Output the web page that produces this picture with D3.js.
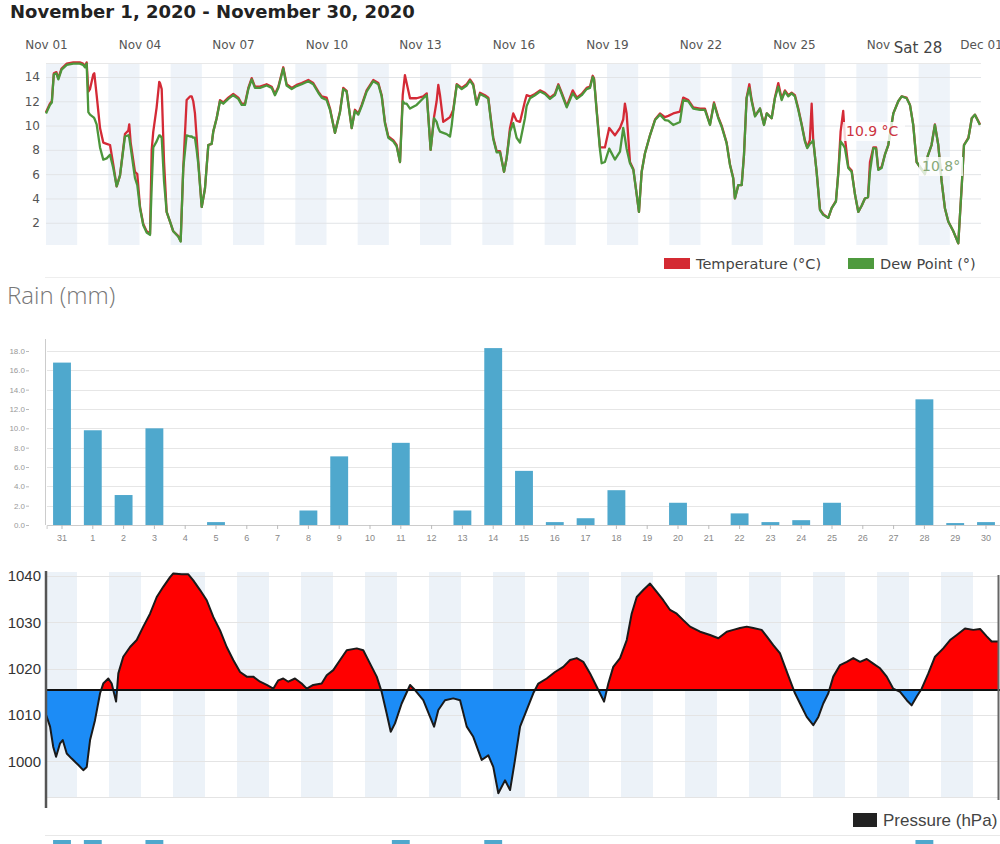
<!DOCTYPE html>
<html><head><meta charset="utf-8">
<script src="https://cdn.jsdelivr.net/npm/d3@7"></script>
<style>
body{margin:0;background:#fff;overflow:hidden}
svg{display:block}
</style></head><body>
<svg id="c" width="1000" height="844"></svg>
<script>
// ---------------- DATA ----------------
const titleText = "November 1, 2020 - November 30, 2020";

// hours since Nov 1 00:00
const tempHours = [
0,3,4.5,6,8,9.5,12,16,21,26,
28.5,30,31.3,32.6,33.9,36.4,37.2,39,41.6,44.1,
46.7,49.3,51.8,54.4,57,60.8,63.4,64.1,65.2,68.5,
70.3,72.4,74.9,77.5,80.1,81.4,82.6,85.2,87.2,87.8,
89.1,90.9,92.9,95.5,98,101.9,103.7,105.7,108.3,110.9,
112.2,113.4,114.7,116,117.3,119.9,122.4,125,127.6,128.8,
131.4,134,136.5,140.4,144.2,148.1,150.7,153.2,155.8,158.4,
160.9,164.8,169.9,173.8,176.3,178.9,182.7,185.3,189.2,193,
196.9,202,205.8,209.7,212.3,216.1,218.7,222.5,226.4,228.9,
231.5,235.4,237.9,240.5,243.1,246.9,252,255.9,258.5,261,
263.6,267.4,270,272.6,274.7,276.4,277.7,280.3,285.4,290.5,
293.2,296.2,298.8,300.8,302.1,303.4,305.9,308.5,311.1,312.4,
313.6,316.3,320.1,324,326.5,329,331.6,334.2,338,340.6,
342.4,344.4,347,349.6,352.7,354.7,357.3,359.8,362.4,365,
368.8,370.1,372.7,376.5,380.4,384.2,388.1,391.9,394.5,397.1,
401,405.6,408.7,412.5,416.3,418.9,421,422,424.1,426.6,
427.9,430.4,433.7,438.1,442,444.5,445.8,447.1,449.7,452.3,
454.9,456.6,458.7,461.2,465.1,469,472.8,476.6,479.2,483,
488.2,490.7,494.6,498.4,503.6,507.4,511.3,514.4,517.7,520.3,
524.1,526.7,529.2,530.5,533.1,535.7,537.5,539.5,541.6,543.4,
546,549.8,552.9,555,558.8,561.3,563.9,566.5,569,571.6,
574.2,576.7,579.3,581.9,584.4,586.2,588.2,589.6,590.8,593.4,
596,598.5,602.4,605,608.3,610.1,611.9,613.9,615.2,617.8,
620.4,623,625.5,628.1,630.6,633,634.5,637.1,639.2,640.9,
643.5,646,648.6,652.5,656.3,658.9,662.7,665.3,667.8,670.4,
676.8,679,681.9,684.5,687.1,689.7,692.2,694.8,698.7,702.5,
705.2,706.9,710.3,712.9,715.3,719.2];

const temperature = [
11.1,11.8,12.0,14.3,14.4,13.9,14.7,15.1,15.2,15.2,
15.1,14.9,15.2,12.8,13.0,14.2,14.3,12.5,9.8,8.6,
8.5,8.4,6.8,5.0,5.9,9.3,9.6,10.1,8.6,6.2,
6.0,3.3,1.9,1.3,1.1,8.0,9.5,11.5,13.6,13.5,
13.0,7.0,2.9,2.1,1.3,0.9,0.5,6.5,12.1,12.4,
12.4,12.0,11.0,9.0,7.0,3.3,4.8,8.4,8.5,9.5,
10.6,12.1,11.9,12.3,12.6,12.3,11.8,11.8,13.1,13.9,
13.2,13.2,13.4,13.2,12.6,13.2,14.8,13.4,13.1,13.35,
13.5,13.75,13.5,12.8,12.4,12.3,11.4,9.4,11.15,13.1,
12.85,9.8,11.3,11.0,11.7,12.9,13.75,13.5,12.5,10.3,
9.1,8.8,8.4,7.0,12.5,14.15,13.5,12.25,12.25,12.4,
12.65,8.0,10.7,12.0,13.35,12.5,10.3,10.5,10.7,11.0,
11.3,13.4,13.1,13.4,13.8,13.4,11.8,12.7,12.5,12.3,
10.7,9.0,7.9,7.9,6.2,7.3,9.8,11.0,10.4,10.3,
12.0,12.5,12.4,12.6,12.9,12.7,12.3,12.6,13.4,12.7,
11.6,12.9,12.3,12.6,13.1,13.2,14.1,13.9,11.2,8.2,
8.2,8.2,9.8,9.2,9.8,10.5,11.8,11.0,7.0,6.4,
4.3,2.9,6.2,7.7,9.2,10.5,11.0,10.7,10.8,11.0,
11.15,12.3,12.1,11.5,11.4,11.4,10.1,11.9,10.7,10.0,
8.6,6.8,5.7,4.0,5.1,5.1,7.6,12.3,13.4,12.1,
10.8,11.4,10.1,11.0,10.6,12.3,13.5,12.2,12.9,12.5,
12.7,12.5,11.4,10.1,8.8,8.2,8.8,11.8,8.8,6.2,
3.1,2.7,2.4,3.2,3.8,6.1,9.5,11.2,9.0,6.6,
6.3,4.3,2.9,3.4,4.0,4.1,7.0,8.2,8.2,6.4,
6.6,7.6,8.4,11.0,12.0,12.4,12.3,11.7,10.1,7.0,
6.0,7.5,8.4,10.1,8.4,5.4,3.2,2.1,1.3,0.3,
5.1,8.4,9.0,10.6,10.9,10.1];

const dewPoint = [
11.0,11.7,11.9,14.2,14.3,13.8,14.6,15.0,15.1,15.1,
15.0,14.8,15.1,11.1,10.9,10.7,10.6,10.1,8.2,7.2,
7.3,7.6,6.5,5.0,5.9,9.1,9.2,9.0,8.2,5.7,
5.1,3.2,1.8,1.2,1.0,5.0,8.2,8.7,9.2,9.2,
9.0,5.4,2.9,2.1,1.3,0.85,0.45,6.5,9.2,9.1,
9.1,9.0,9.0,8.0,6.8,3.3,4.8,8.4,8.5,9.5,
10.6,12.0,11.8,12.2,12.5,12.2,11.7,11.7,13.0,13.8,
13.1,13.1,13.3,13.1,12.5,13.1,14.7,13.3,13.0,13.25,
13.4,13.65,13.4,12.7,12.3,12.1,11.3,9.4,11.1,13.0,
12.8,9.8,11.2,10.9,11.6,12.8,13.65,13.4,12.4,10.2,
9.0,8.7,8.3,7.0,12.0,11.8,11.8,11.4,11.7,12.25,
12.5,8.0,10.6,10.3,9.8,9.5,9.4,9.3,9.1,10.0,
11.15,13.35,13.0,13.3,13.7,13.3,11.7,12.6,12.4,12.2,
10.6,8.9,7.8,7.8,6.2,7.3,9.5,10.2,9.0,8.6,
10.6,11.6,12.25,12.5,12.8,12.6,12.2,12.5,13.3,12.6,
11.5,12.65,12.2,12.5,13.0,13.1,14.0,13.8,11.1,8.0,
6.9,7.0,8.1,7.2,7.85,9.8,9.0,8.1,6.9,6.35,
4.3,2.9,6.2,7.7,9.2,10.45,10.9,10.45,10.4,10.05,
10.3,12.1,12.0,11.4,11.3,11.3,10.05,11.8,10.6,9.9,
8.55,6.75,5.65,4.0,5.1,5.1,7.6,12.25,13.1,12.0,
10.75,11.4,10.05,11.0,10.6,12.25,13.2,12.1,12.8,12.4,
12.65,12.4,11.3,10.05,8.7,8.15,8.5,8.6,8.8,6.2,
3.05,2.65,2.4,3.2,3.75,6.05,8.7,8.4,8.15,6.5,
6.2,4.3,2.9,3.4,4.0,4.1,6.2,8.15,8.1,6.35,
6.5,7.6,8.4,11.0,12.0,12.4,12.25,11.7,10.05,7.0,
6.0,7.5,8.4,10.05,8.4,5.4,3.2,2.1,1.3,0.3,
5.1,8.4,8.95,10.6,10.9,10.05];

const tempTickHours = [0,72,144,216,288,360,432,504,576,648,720];
const tempTickLabels = ["Nov 01","Nov 04","Nov 07","Nov 10","Nov 13","Nov 16","Nov 19","Nov 22","Nov 25","Nov 28","Dec 01"];
const tempYTicks = [2,4,6,8,10,12,14];
const tempSeriesNames = ["Temperature (°C)","Dew Point (°)"];
const hoverLabel = "Sat 28";
const hoverTemp = "10.9 °C";
const hoverDew = "10.8°";

const rainDays = ["31","1","2","3","4","5","6","7","8","9","10","11","12","13","14","15","16","17","18","19","20","21","22","23","24","25","26","27","28","29","30"];
const rainMM = [16.8,9.8,3.1,10.0,0,0.3,0,0,1.5,7.1,0,8.5,0,1.5,18.3,5.6,0.3,0.7,3.6,0,2.3,0,1.2,0.3,0.5,2.3,0,0,13.0,0.2,0.3];
const rainTicks = [0,2,4,6,8,10,12,14,16,18];
const rainTitle = "Rain (mm)";

const pressureHours = [
0,3.8,6.2,8.3,11.3,13.3,16.3,20,25,28.7,
31.3,33.8,37.5,41.3,43.7,47.5,50,53.3,55,58.7,
63.8,68.8,73.7,78.8,83.8,88.7,93.8,96.2,102.5,107.5,
111.2,116.3,121.3,126.2,131.3,136.3,141.2,146.3,151.3,156.2,
161.3,166.3,171.2,175,178.7,182.5,187.5,192.5,196.3,201.2,
207.5,211.3,216.2,221.3,226.3,233.8,238.7,243.8,248.8,252.5,
256.3,259.3,262.5,267.5,273.8,277.5,283.7,288.8,291.8,295,
300,306.2,311.3,316.3,321.2,327.5,332.5,336.2,340,345,
348.8,352.5,356.3,361.3,366.2,370,376.3,382.5,388.7,393.8,
398.8,403.7,408.8,413.8,419.3,422.5,426.2,431.3,436.3,440,
443.8,448.7,453.8,458.8,463.7,468.8,473.8,478.7,483.8,491.3,
498.8,505,511.3,516.2,521.3,526.3,531.2,537.5,541.3,546.2,
551.3,555,558.8,562.5,566.3,571.3,576.2,580,583.7,587.5,
591.2,596.3,601.3,606.2,611.3,616.3,621.2,626.3,631.3,636.2,
641.3,646.3,650,653.8,657.5,662.5,667.5,673.7,678.8,683.8,
690,696.2,701.3,706.3,710,716.3];
const pressure = [
1010.7,1007.5,1003.1,1001.0,1003.9,1004.6,1001.7,1000.6,999.2,998.1,
998.8,1004.6,1008.9,1014.7,1016.8,1017.9,1016.8,1012.9,1019.0,1022.6,
1024.7,1026.2,1029.1,1031.9,1035.5,1037.7,1039.8,1040.6,1040.4,1040.4,
1039.1,1037.0,1034.8,1031.2,1028.3,1024.7,1021.9,1019.3,1018.3,1018.3,
1017.2,1016.5,1015.7,1017.5,1017.9,1017.2,1017.9,1016.8,1015.7,1016.5,
1016.8,1018.6,1019.7,1021.9,1024.0,1024.4,1024.0,1021.1,1018.3,1015.0,
1010.3,1006.4,1008.2,1012.5,1016.5,1015.4,1013.2,1009.6,1007.5,1011.1,
1013.2,1013.6,1013.2,1007.5,1005.3,1000.3,1001.3,998.8,993.1,995.9,
993.8,1000.3,1007.5,1011.1,1014.7,1016.8,1017.9,1019.3,1020.4,1021.9,
1022.3,1021.5,1019.0,1016.1,1012.9,1016.8,1020.4,1022.3,1026.2,1031.9,
1035.5,1037.0,1038.4,1036.6,1034.8,1032.7,1031.9,1030.5,1029.1,1028.0,
1027.3,1026.6,1028.0,1028.4,1028.8,1029.1,1028.8,1028.4,1027.0,1025.1,
1023.3,1020.4,1017.5,1014.7,1012.5,1009.6,1007.8,1009.6,1012.5,1014.7,
1018.3,1020.8,1021.5,1022.3,1021.5,1022.1,1021.1,1020.1,1018.3,1015.7,
1015.0,1013.2,1012.1,1014.0,1015.7,1019.0,1022.6,1024.4,1026.2,1027.3,
1028.7,1028.4,1028.6,1027.0,1025.9,1025.9];
const pressureBaseline = 1015.4;
const pressureTicks = [1000,1010,1020,1030,1040];
const pressureName = "Pressure (hPa)";

// ---------------- DRAW ----------------
const SANS = '"DejaVu Sans", sans-serif';
const ARIAL = '"Liberation Sans", Arial, sans-serif';
const svg = d3.select("#c");

svg.append("text").attr("x", 10).attr("y", 18)
  .attr("font-family", SANS).attr("font-weight", "bold").attr("font-size", 18)
  .attr("fill", "#222").text(titleText);

// ===== Temperature chart =====
const tTop = 63, tBot = 245, tL = 46, tR = 981;
const tX = d3.scaleLinear().domain([0, 720]).range([tL, tR]);
const tY = d3.scaleLinear().domain([0.17, 15.15]).range([tBot, tTop]);
const gT = svg.append("g");

gT.selectAll("rect.band").data(d3.range(0, 30, 2)).join("rect")
  .attr("x", d => tX(d * 24)).attr("y", tTop)
  .attr("width", tX(24) - tX(0)).attr("height", tBot - tTop)
  .attr("fill", "#eef3f9");

gT.selectAll("line.grid").data(tempYTicks).join("line")
  .attr("x1", tL).attr("x2", tR).attr("y1", d => tY(d) + 0.5).attr("y2", d => tY(d) + 0.5)
  .attr("stroke", "#e2e4e7");
gT.append("line").attr("x1", tL).attr("x2", tR).attr("y1", tTop + 0.5).attr("y2", tTop + 0.5).attr("stroke", "#e8e8e8");

const tyAxis = gT.append("g").attr("transform", `translate(${tL - 4},0)`)
  .call(d3.axisLeft(tY).tickValues(tempYTicks).tickSize(0).tickPadding(2));
tyAxis.select(".domain").remove();
tyAxis.selectAll("text").attr("font-family", SANS).attr("font-size", 12).attr("fill", "#555");

const txAxis = gT.append("g").attr("transform", `translate(0,52)`)
  .call(d3.axisTop(tX).tickValues(tempTickHours).tickFormat((d, i) => tempTickLabels[i]).tickSize(0).tickPadding(3));
txAxis.select(".domain").remove();
txAxis.selectAll("text").attr("font-family", SANS).attr("font-size", 12).attr("fill", "#555");

const tLine = vals => d3.line().x((d, i) => tX(tempHours[i])).y(d => tY(d)).curve(d3.curveLinear)(vals);
gT.append("path").attr("d", tLine(temperature)).attr("fill", "none")
  .attr("stroke", "#d42a36").attr("stroke-width", 2.3).attr("stroke-linejoin", "round");
gT.append("path").attr("d", tLine(dewPoint)).attr("fill", "none")
  .attr("stroke", "#4c963b").attr("stroke-width", 2.3).attr("stroke-linejoin", "round");

// hover labels
gT.append("rect").attr("x", 843).attr("y", 122).attr("width", 62).attr("height", 19).attr("fill", "#fff").attr("opacity", 0.8);
gT.append("text").attr("x", 846).attr("y", 136).attr("font-family", SANS).attr("font-size", 14)
  .attr("fill", "#cc3341").text(hoverTemp);
gT.append("rect").attr("x", 919).attr("y", 157).attr("width", 44).attr("height", 19).attr("fill", "#fff").attr("opacity", 0.8);
gT.append("text").attr("x", 922).attr("y", 171).attr("font-family", SANS).attr("font-size", 14)
  .attr("fill", "#86a877").text(hoverDew);
gT.append("rect").attr("x", 891).attr("y", 34).attr("width", 56).attr("height", 24).attr("fill", "#fff");
gT.append("text").attr("x", 918).attr("y", 53).attr("text-anchor", "middle").attr("font-family", SANS)
  .attr("font-size", 15).attr("fill", "#444").text(hoverLabel);

// legend
const legT = [{x: 664, c: "#d42a33"}, {x: 848, c: "#4e9a3e"}];
legT.forEach((l, i) => {
  svg.append("rect").attr("x", l.x).attr("y", 258).attr("width", 26).attr("height", 11).attr("fill", l.c);
  svg.append("text").attr("x", l.x + 32).attr("y", 269).attr("font-family", SANS).attr("font-size", 14.5)
    .attr("fill", "#444").text(tempSeriesNames[i]);
});

svg.append("line").attr("x1", 45).attr("x2", 1000).attr("y1", 277.5).attr("y2", 277.5).attr("stroke", "#eee");

// ===== Rain chart =====
svg.append("text").attr("x", 7).attr("y", 304).attr("font-family", '"Open Sans", sans-serif')
  .attr("font-weight", 300).attr("font-size", 24).attr("fill", "#777").text(rainTitle);

const rX = d3.scaleBand().domain(rainDays).range([46.6, 1001.4]).paddingInner(0.42).paddingOuter(0.21);
const rY = d3.scaleLinear().domain([0, 19.2]).range([525, 339.4]);
const gR = svg.append("g");
gR.selectAll("line.grid").data(rainTicks.slice(1)).join("line")
  .attr("x1", 47).attr("x2", 1000).attr("y1", d => Math.round(rY(d)) + 0.5).attr("y2", d => Math.round(rY(d)) + 0.5)
  .attr("stroke", "#e6e6e6");
gR.selectAll("rect.bar").data(rainMM).join("rect")
  .attr("x", (d, i) => rX(rainDays[i])).attr("width", rX.bandwidth())
  .attr("y", d => rY(d)).attr("height", d => rY(0) - rY(d))
  .attr("fill", "#4fa8cd");
const ryAxis = gR.append("g").attr("transform", "translate(29,0)")
  .call(d3.axisLeft(rY).tickValues(rainTicks).tickFormat(d3.format(".1f")).tickSize(3).tickPadding(1));
ryAxis.select(".domain").remove();
ryAxis.selectAll("line").attr("stroke", "#bbb");
ryAxis.selectAll("text").attr("font-family", ARIAL).attr("font-size", 8).attr("fill", "#999");
gR.append("line").attr("x1", 45.5).attr("x2", 45.5).attr("y1", 339).attr("y2", 525).attr("stroke", "#ccc");
const rxAxis = gR.append("g").attr("transform", "translate(0,525)")
  .call(d3.axisBottom(rX).tickSize(4).tickPadding(6));
rxAxis.select(".domain").attr("stroke", "#ccc");
rxAxis.selectAll("line").attr("stroke", "#bbb");
rxAxis.selectAll("text").attr("font-family", ARIAL).attr("font-size", 9).attr("fill", "#888");

// ===== Pressure chart =====
const pTop = 572, pBot = 797, pL = 45, pR = 998;
const pX = d3.scaleLinear().domain([0, 720]).range([45, 1005]);
const pY = d3.scaleLinear().domain([992.3, 1040.9]).range([pBot, pTop]);
const defs = svg.append("defs");
defs.append("clipPath").attr("id", "pclip").append("rect").attr("x", pL).attr("y", pTop).attr("width", pR - pL).attr("height", pBot - pTop + 10);
const yb = pY(pressureBaseline);
defs.append("clipPath").attr("id", "pabove").append("rect").attr("x", pL).attr("y", 560).attr("width", pR - pL).attr("height", yb - 560);
defs.append("clipPath").attr("id", "pbelow").append("rect").attr("x", pL).attr("y", yb).attr("width", pR - pL).attr("height", 820 - yb);

const gP = svg.append("g");
gP.append("g").attr("clip-path", "url(#pclip)").selectAll("rect").data(d3.range(0, 31, 2)).join("rect")
  .attr("x", d => pX(d * 24)).attr("y", pTop).attr("width", pX(24) - pX(0)).attr("height", pBot - pTop)
  .attr("fill", "#ecf2f8");
gP.selectAll("line.grid").data(pressureTicks.concat([992.3])).join("line")
  .attr("x1", pL).attr("x2", pR).attr("y1", d => Math.round(pY(d)) + 0.5).attr("y2", d => Math.round(pY(d)) + 0.5)
  .attr("stroke", "#e4e4e4");

const pts = pressure.map((v, i) => [pressureHours[i], v]);
const area = d3.area().x(d => pX(d[0])).y0(yb).y1(d => pY(d[1]));
const line = d3.line().x(d => pX(d[0])).y(d => pY(d[1]));
const gClip = gP.append("g").attr("clip-path", "url(#pclip)");
gClip.append("path").attr("d", area(pts)).attr("fill", "#ff0000").attr("clip-path", "url(#pabove)");
gClip.append("path").attr("d", area(pts)).attr("fill", "#1c8cf6").attr("clip-path", "url(#pbelow)");
gClip.append("path").attr("d", line(pts)).attr("fill", "none").attr("stroke", "#1a1a1a").attr("stroke-width", 2).attr("stroke-linejoin", "round");
gP.append("line").attr("x1", pL).attr("x2", 1000).attr("y1", yb).attr("y2", yb).attr("stroke", "#111").attr("stroke-width", 2);

const pyAxis = gP.append("g").attr("transform", `translate(${pL},0)`)
  .call(d3.axisLeft(pY).tickValues(pressureTicks).tickSize(0).tickPadding(4).tickFormat(d3.format("d")));
pyAxis.select(".domain").remove();
pyAxis.selectAll("text").attr("font-family", ARIAL).attr("font-size", 15).attr("fill", "#333");
gP.append("line").attr("x1", 46).attr("x2", 46).attr("y1", 571).attr("y2", 808).attr("stroke", "#555").attr("stroke-width", 2.5);
gP.append("line").attr("x1", 998.5).attr("x2", 998.5).attr("y1", 575).attr("y2", 800).attr("stroke", "#666").attr("stroke-width", 2);

svg.append("rect").attr("x", 853).attr("y", 813).attr("width", 24).attr("height", 14).attr("fill", "#222");
svg.append("text").attr("x", 883).attr("y", 826).attr("font-family", ARIAL).attr("font-size", 17)
  .attr("fill", "#444").text(pressureName);

// ===== top of next (rain) chart, cut off by the window =====
svg.append("line").attr("x1", 45).attr("x2", 1000).attr("y1", 835.5).attr("y2", 835.5).attr("stroke", "#e8e8e8");
const nY = d3.scaleLinear().domain([0, 8]).range([900, 840]).clamp(true);
svg.append("g").selectAll("rect").data(rainMM).join("rect")
  .attr("x", (d, i) => rX(rainDays[i])).attr("width", rX.bandwidth())
  .attr("y", d => nY(d)).attr("height", d => 900 - nY(d))
  .attr("fill", "#4fa8cd");
</script></body></html>
